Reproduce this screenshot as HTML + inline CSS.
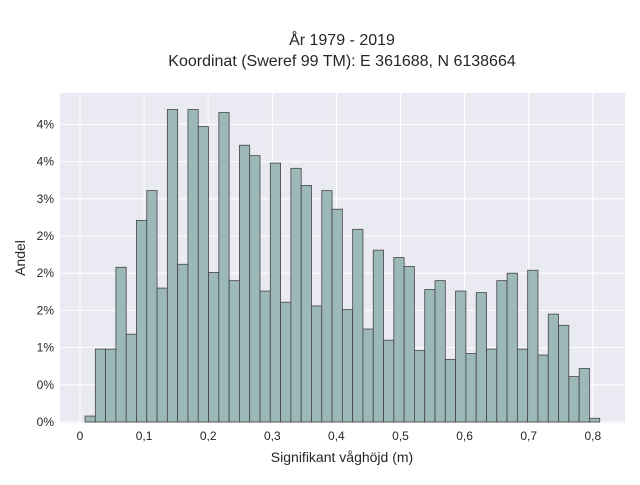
<!DOCTYPE html>
<html><head><meta charset="utf-8"><style>
body{margin:0;background:#fff;font-family:"Liberation Sans",sans-serif;}
svg text{font-family:"Liberation Sans",sans-serif;fill:#262626;}
</style></head><body>
<svg id="chart" width="640" height="480" viewBox="0 0 640 480" xmlns="http://www.w3.org/2000/svg">
<text x="342" y="45" text-anchor="middle" font-size="16">År 1979 - 2019</text>
<text x="342" y="66" text-anchor="middle" font-size="16">Koordinat (Sweref 99 TM): E 361688, N 6138664</text>
<rect x="60" y="93" width="565" height="330" fill="#eaeaf2"/>
<g id="grid"></g>
<g id="bars"></g>
<g id="ticks"></g>
<text x="342" y="462" text-anchor="middle" font-size="14">Signifikant våghöjd (m)</text>
<text x="25" y="258" text-anchor="middle" font-size="14" transform="rotate(-90 25 258)">Andel</text>
</svg>
<script>
const binStart = 0.0078;
const binWidth = 0.01606;
const shares = [0.08,0.98,0.98,2.08,1.18,2.71,3.11,1.80,4.20,2.12,4.20,3.97,2.01,4.16,1.90,3.72,3.58,1.76,3.48,1.61,3.41,3.18,1.56,3.11,2.86,1.51,2.59,1.25,2.31,1.10,2.21,2.09,0.96,1.78,1.90,0.84,1.76,0.92,1.74,0.98,1.90,2.00,0.98,2.04,0.90,1.45,1.30,0.61,0.72,0.05];
const xTicks = [0,0.1,0.2,0.3,0.4,0.5,0.6,0.7,0.8];
const xTickLabels = ["0","0,1","0,2","0,3","0,4","0,5","0,6","0,7","0,8"];
const yTicks = [0,0.5,1,1.5,2,2.5,3,3.5,4];
const yTickLabels = ["0%","0%","1%","2%","2%","2%","3%","4%","4%"];
const NS="http://www.w3.org/2000/svg";
const xs = v => 80 + v*641;
const ys = v => 422 - v*74.4;
const grid=document.getElementById('grid'), bars=document.getElementById('bars'), ticks=document.getElementById('ticks');
function mk(tag,attrs,parent){const e=document.createElementNS(NS,tag);for(const k in attrs)e.setAttribute(k,attrs[k]);parent.appendChild(e);return e;}
xTicks.forEach((t,i)=>{
  const l=mk('line',{x1:xs(t),x2:xs(t),y1:93,y2:423,stroke:'#fff','stroke-width':1},grid);
  
  
  const tx=mk('text',{x:xs(t),y:440,'text-anchor':'middle','font-size':12},ticks);
  tx.textContent=xTickLabels[i];
  
  
});
yTicks.forEach((t,i)=>{
  const l=mk('line',{x1:60,x2:625,y1:ys(t),y2:ys(t),stroke:'#fff','stroke-width':1},grid);
  
  
  const tx=mk('text',{x:54,y:ys(t)+4,'text-anchor':'end','font-size':12},ticks);
  tx.textContent=yTickLabels[i];
  
  
});
shares.forEach((v,i)=>{
  const x0=xs(binStart+i*binWidth), x1=xs(binStart+(i+1)*binWidth);
  const r=mk('rect',{x:x0,y:ys(v),width:x1-x0,height:ys(0)-ys(v),fill:'#9db8b8',stroke:'#444','stroke-width':0.8},bars);
  
  
});
</script>
</body></html>
